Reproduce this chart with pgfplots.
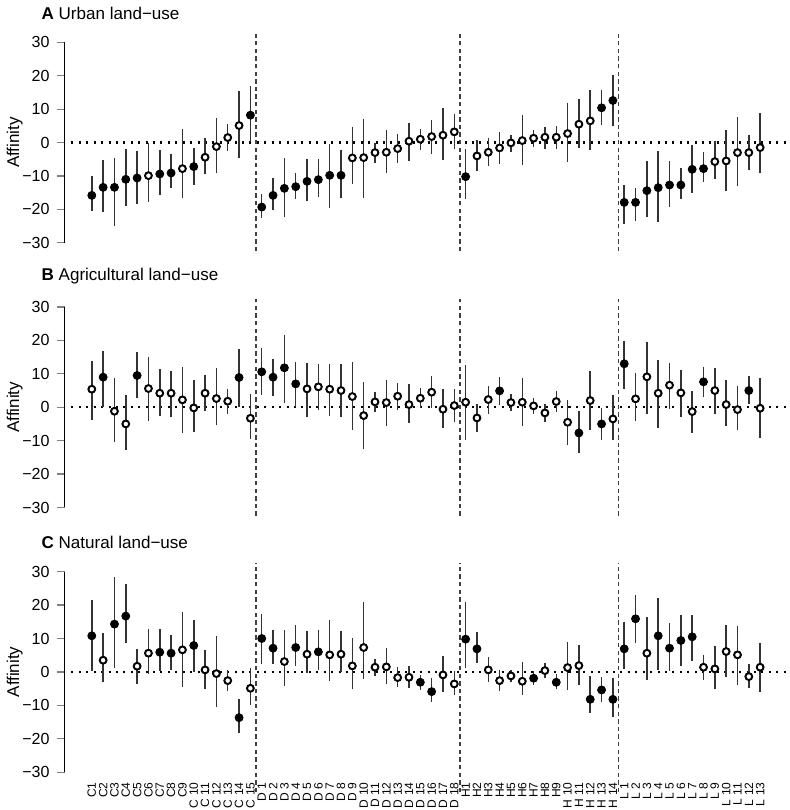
\documentclass[border=0pt]{standalone}
\usepackage{pgfplots}
\pgfplotsset{compat=1.18}
\usepackage{pgfplotstable}
\usepgfplotslibrary{groupplots}
\usepackage{fontspec}
\setmainfont{Liberation Sans}

% i = category index, v = affinity, lo/hi = interval, f = 1 filled / 0 open
\pgfplotstableread{
i v lo hi f
0 -15.8 -20.5 -10.1 1
1 -13.4 -20.8 -5.1 1
2 -13.4 -25.1 -4.5 1
3 -11.0 -19.1 -2.0 1
4 -10.6 -18.5 -2.6 1
5 -9.9 -17.8 0.0 0
6 -9.4 -15.7 -2.3 1
7 -9.1 -13.7 -3.3 1
8 -7.8 -16.5 4.0 0
9 -7.2 -12.7 -1.5 1
10 -4.4 -9.4 1.4 0
11 -1.2 -9.2 7.5 0
12 1.5 -2.5 5.6 0
13 5.1 -4.7 15.4 0
14 8.2 0.2 17.0 1
15 -19.3 -22.5 -15.5 1
16 -15.8 -20.1 -10.6 1
17 -13.7 -22.3 -4.6 1
18 -13.2 -17.0 -9.0 1
19 -11.6 -17.5 -4.9 1
20 -11.1 -16.3 -4.8 1
21 -9.8 -19.5 -0.3 1
22 -9.8 -16.5 -2.3 1
23 -4.6 -12.4 4.8 0
24 -4.5 -16.5 7.2 0
25 -3.0 -6.0 0.0 0
26 -2.9 -9.0 3.8 0
27 -1.8 -6.0 2.5 0
28 0.4 -5.5 6.0 0
29 1.0 -2.2 4.0 0
30 1.8 -3.4 6.9 0
31 2.2 -5.2 10.2 0
32 3.2 -1.8 8.4 0
33 -10.2 -16.8 -2.0 1
34 -4.0 -8.5 0.9 0
35 -2.9 -7.1 1.5 0
36 -1.6 -6.3 3.3 0
37 -0.1 -2.8 2.4 0
38 0.6 -6.8 8.2 0
39 1.3 -1.4 3.8 0
40 1.6 -1.8 4.6 0
41 1.6 -1.9 4.9 0
42 2.7 -5.8 11.7 0
43 5.5 -1.5 12.9 0
44 6.5 -2.3 15.6 0
45 10.4 5.2 15.8 1
46 12.6 5.1 20.1 1
47 -17.9 -24.4 -12.6 1
48 -17.9 -23.4 -13.5 1
49 -14.4 -22.4 -5.6 1
50 -13.5 -23.9 -2.6 1
51 -12.7 -19.4 -5.4 1
52 -12.7 -16.8 -7.6 1
53 -8.0 -15.0 -0.6 1
54 -7.8 -11.8 -2.8 1
55 -5.7 -11.0 0.6 0
56 -5.5 -14.5 3.9 0
57 -3.0 -12.9 7.8 0
58 -3.0 -8.2 2.4 0
59 -1.5 -9.2 8.7 0
}\urban

\pgfplotstableread{
i v lo hi f
0 5.4 -3.8 13.8 0
1 9.0 0.1 16.8 1
2 -1.2 -10.5 8.6 0
3 -5.0 -12.9 3.7 0
4 9.5 2.7 16.6 1
5 5.6 -4.2 15.0 0
6 4.2 -2.5 11.5 0
7 4.2 -2.9 10.9 0
8 2.2 -7.7 12.0 0
9 -0.2 -7.5 8.2 0
10 4.2 -1.2 9.6 0
11 2.6 -5.4 11.8 0
12 1.8 -2.1 5.4 0
13 8.9 0.0 17.4 1
14 -3.3 -9.6 4.0 0
15 10.6 3.7 17.6 1
16 9.0 3.4 14.5 1
17 11.8 1.4 21.5 1
18 7.0 0.0 13.6 1
19 5.5 -2.9 13.3 0
20 6.1 -0.8 12.9 0
21 5.4 -2.5 12.8 0
22 5.0 -2.8 12.8 0
23 3.2 -6.7 13.5 0
24 -2.5 -12.4 7.5 0
25 1.6 -1.3 4.7 0
26 1.4 -5.6 8.3 0
27 3.3 -0.7 7.3 0
28 0.8 -4.8 7.0 0
29 2.7 -0.3 5.8 0
30 4.5 -0.3 9.3 0
31 -0.6 -6.3 5.6 0
32 0.5 -4.4 5.4 0
33 1.5 -9.8 12.5 0
34 -3.2 -7.5 1.1 0
35 2.3 -2.0 6.5 0
36 4.9 0.8 9.0 1
37 1.4 -1.0 3.9 0
38 1.5 -5.5 8.8 0
39 0.4 -2.1 2.7 0
40 -1.7 -4.4 0.9 0
41 1.7 -1.4 4.8 0
42 -4.5 -11.4 2.3 0
43 -7.7 -13.7 -1.2 1
44 2.0 -6.7 10.9 0
45 -5.0 -9.7 -0.2 1
46 -3.5 -9.7 3.6 0
47 13.0 5.5 19.8 1
48 2.5 -4.2 10.3 0
49 9.1 -1.9 19.4 0
50 4.2 -6.2 14.1 0
51 6.6 -0.5 13.3 0
52 4.3 -2.9 11.2 0
53 -1.3 -7.7 5.0 0
54 7.6 3.0 12.1 1
55 5.0 -2.1 11.8 0
56 0.8 -5.5 8.2 0
57 -0.7 -6.9 6.4 0
58 5.0 0.9 9.2 1
59 -0.3 -9.2 8.8 0
}\agri

\pgfplotstableread{
i v lo hi f
0 10.8 0.4 21.4 1
1 3.5 -3.1 11.5 0
2 14.3 1.3 28.4 1
3 16.7 8.6 26.3 1
4 1.7 -3.7 7.0 0
5 5.6 -0.5 12.8 0
6 5.9 0.4 12.9 1
7 5.6 0.6 11.1 1
8 6.6 -4.4 18.0 0
9 7.9 0.0 15.6 1
10 0.6 -5.0 6.5 0
11 -0.5 -10.4 10.6 0
12 -2.6 -5.6 0.5 0
13 -13.7 -18.2 -8.0 1
14 -4.9 -10.0 1.1 0
15 10.0 2.3 17.2 1
16 7.1 2.4 12.4 1
17 3.1 -4.2 12.6 0
18 7.3 1.7 14.1 1
19 5.3 -0.4 12.3 0
20 6.0 0.5 12.4 1
21 5.1 -2.8 15.6 0
22 5.3 -0.1 12.1 0
23 1.8 -5.2 10.1 0
24 7.3 -2.0 20.8 0
25 1.4 -1.1 3.9 0
26 1.5 -3.6 7.2 0
27 -1.7 -4.4 1.4 0
28 -1.6 -4.7 1.9 0
29 -3.1 -5.3 -0.9 1
30 -5.9 -8.9 -1.9 1
31 -0.9 -5.9 4.8 0
32 -3.6 -7.0 0.3 0
33 9.8 1.3 20.9 1
34 6.9 2.7 11.8 1
35 0.6 -3.1 4.4 0
36 -2.6 -5.6 0.5 0
37 -1.2 -3.1 0.6 0
38 -2.8 -6.9 3.0 0
39 -1.9 -3.9 0.2 1
40 0.4 -1.9 2.8 0
41 -3.1 -5.2 -0.7 1
42 1.3 -5.5 9.0 0
43 1.9 -3.8 8.2 0
44 -8.2 -12.3 -1.2 1
45 -5.4 -8.9 -1.5 1
46 -8.2 -13.5 -1.9 1
47 6.9 0.8 15.0 1
48 15.9 8.6 23.1 1
49 5.6 -2.5 16.3 0
50 10.8 0.6 22.0 1
51 7.1 0.2 14.7 1
52 9.4 1.9 16.9 1
53 10.5 3.3 17.1 1
54 1.4 -2.3 5.1 0
55 0.9 -5.2 7.7 0
56 6.1 -1.4 14.0 0
57 5.1 -3.9 13.7 0
58 -1.4 -4.9 2.3 0
59 1.4 -6.0 8.8 0
}\natural

\pgfplotsset{
  bars/.style={only marks, mark=none,
    error bars/.cd, y dir=both, y explicit, error mark=none,
    error bar style={line width=0.75pt, black!80}},
  pts/.style={scatter, only marks, scatter src=explicit symbolic, mark size=1.45pt,
    scatter/classes={
      0={mark=*, draw=black, fill=white, line width=0.5pt},
      1={mark=*, draw=black, fill=black}}},
  zero/.style={black, line width=1.1pt, dash pattern=on 1pt off 2.7pt},
  vsep/.style={black!75, line width=0.6pt, dash pattern=on 2.2pt off 1.6pt},
  yline/.style={black, line width=0.6pt},
}

\begin{document}
\begin{tikzpicture}
\begin{groupplot}[
  group style={group size=1 by 3, vertical sep=32pt},
  width=361pt, height=100pt, scale only axis,
  xmin=-2.4, xmax=61.5, ymin=-30, ymax=30,
  clip=false,
  axis line style={draw=none},
  xtick=\empty,
  ytick={-30,-20,-10,0,10,20,30},
  yticklabels={−30,−20,−10,0,10,20,30},
  ytick pos=left, xtick pos=left,
  tick align=outside, major tick length=4pt,
  ytick style={line width=0.6pt},
  tick label style={font=\fontsize{8}{9}\selectfont},
  ylabel={Affinity}, ylabel shift=-7pt,
  ylabel style={font=\fontsize{8.5}{10}\selectfont},
  title style={at={(0,1)}, anchor=south west, xshift=-15pt, yshift=2pt,
    font=\fontsize{8.5}{10}\selectfont},
]
\nextgroupplot[title={\textbf{A} Urban land−use}]
\addplot[yline] coordinates {(-2.4,-30) (-2.4,30)};
\addplot[zero] coordinates {(-1.8,0) (61.5,0)};
\addplot[vsep] coordinates {(14.5,-32.5) (14.5,32.5)};
\addplot[vsep] coordinates {(32.5,-32.5) (32.5,32.5)};
\addplot[vsep] coordinates {(46.5,-32.5) (46.5,32.5)};
\addplot[bars] table[x=i, y=v, y error plus expr=\thisrow{hi}-\thisrow{v},
  y error minus expr=\thisrow{v}-\thisrow{lo}] {\urban};
\addplot[pts] table[x=i, y=v, meta=f] {\urban};

\nextgroupplot[title={\textbf{B} Agricultural land−use}]
\addplot[yline] coordinates {(-2.4,-30) (-2.4,30)};
\addplot[zero] coordinates {(-1.8,0) (61.5,0)};
\addplot[vsep] coordinates {(14.5,-32.5) (14.5,32.5)};
\addplot[vsep] coordinates {(32.5,-32.5) (32.5,32.5)};
\addplot[vsep] coordinates {(46.5,-32.5) (46.5,32.5)};
\addplot[bars] table[x=i, y=v, y error plus expr=\thisrow{hi}-\thisrow{v},
  y error minus expr=\thisrow{v}-\thisrow{lo}] {\agri};
\addplot[pts] table[x=i, y=v, meta=f] {\agri};

\nextgroupplot[title={\textbf{C} Natural land−use},
  xtick={0,...,59},
  xticklabels={C1,C2,C3,C4,C5,C6,C7,C8,C9,C 10,C 11,C 12,C 13,C 14,C 15,
    D 1,D 2,D 3,D 4,D 5,D 6,D 7,D 8,D 9,D 10,D 11,D 12,D 13,D 14,D 15,D 16,D 17,D 18,
    H1,H2,H3,H4,H5,H6,H7,H8,H9,H 10,H 11,H 12,H 13,H 14,
    L 1,L 2,L 3,L 4,L 5,L 6,L 7,L 8,L 9,L 10,L 11,L 12,L 13},
  xtick style={draw=none},
  x tick label style={rotate=90, anchor=east, inner sep=1pt,
    font=\fontsize{6}{7}\selectfont},
]
\addplot[yline] coordinates {(-2.4,-30) (-2.4,30)};
\addplot[zero] coordinates {(-1.8,0) (61.5,0)};
\addplot[vsep] coordinates {(14.5,-36) (14.5,32.5)};
\addplot[vsep] coordinates {(32.5,-36) (32.5,32.5)};
\addplot[vsep] coordinates {(46.5,-36) (46.5,32.5)};
\addplot[bars] table[x=i, y=v, y error plus expr=\thisrow{hi}-\thisrow{v},
  y error minus expr=\thisrow{v}-\thisrow{lo}] {\natural};
\addplot[pts] table[x=i, y=v, meta=f] {\natural};
\end{groupplot}
\end{tikzpicture}
\end{document}
